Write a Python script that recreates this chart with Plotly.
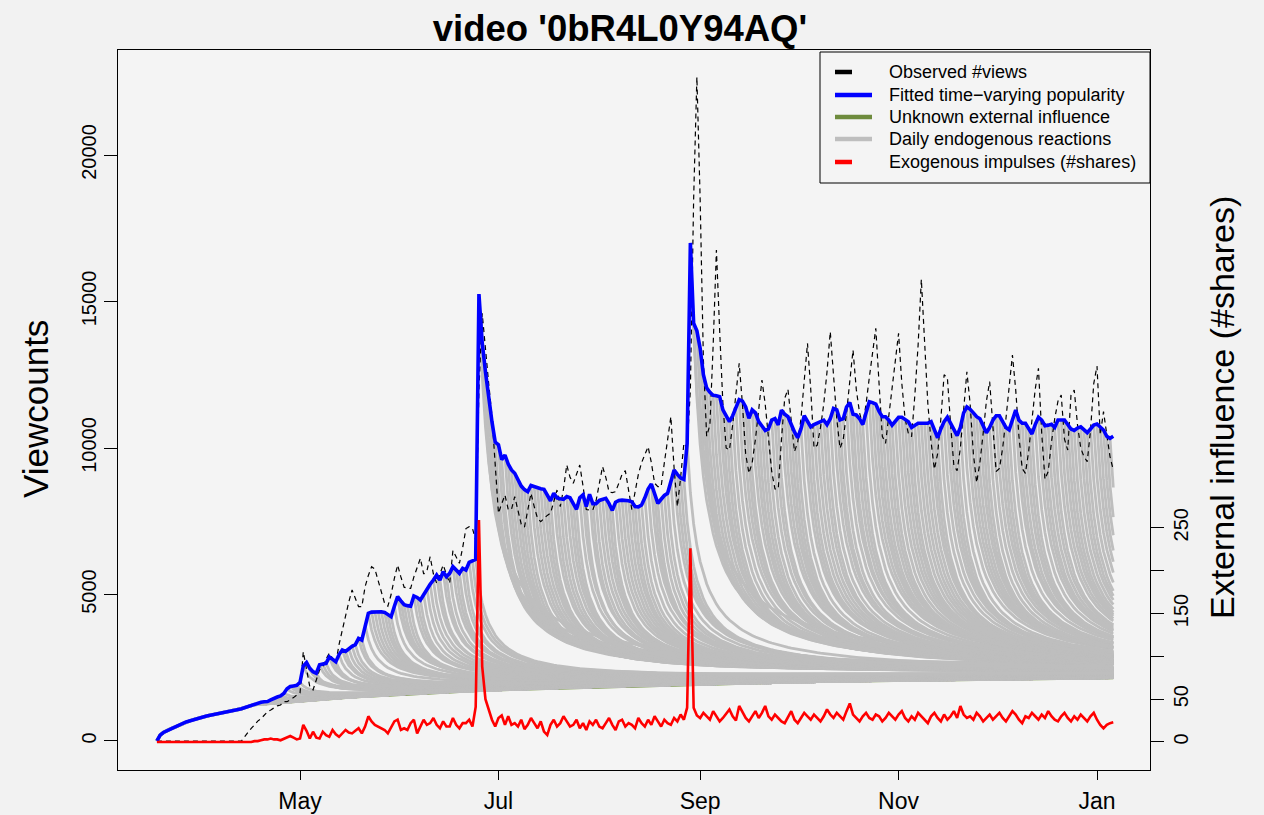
import numpy as np
import pandas as pd
import plotly.graph_objects as go

FIRST_DAY = "2013-03-18"

# Fitted time-varying popularity (views per day)
fitted = [
    0, 200, 290, 355, 405, 450, 500, 560, 610, 650,
    683, 720, 755, 790, 820, 845, 870, 890, 910, 930,
    950, 975, 1000, 1025, 1050, 1075, 1100, 1140, 1180, 1215,
    1260, 1290, 1320, 1340, 1345, 1400, 1460, 1500, 1536, 1620,
    1780, 1860, 1880, 1900, 2000, 2560, 2680, 2480, 2365, 2310,
    2600, 2620, 2650, 2870, 2780, 2706, 2950, 3106, 3060, 3150,
    3230, 3290, 3504, 3447, 3950, 4358, 4400, 4413, 4413, 4413,
    4390, 4300, 4242, 4600, 4925, 4780, 4650, 4620, 4600, 4950,
    4900, 4812, 5000, 5211, 5350, 5495, 5666, 5495, 5779, 5608,
    5722, 5950, 5850, 5722, 5894, 5836, 6100, 6150, 6200, 15256,
    13600, 12600, 11700, 10900, 10200, 10110, 9600, 9761, 9450, 9250,
    9140, 8900, 8700, 8580, 8509, 8720, 8680, 8630, 8610, 8589,
    8400, 8200, 8453, 8300, 8270, 8248, 8340, 8300, 8100, 7907,
    8300, 8400, 8000, 8420, 8100, 8100, 8210, 8240, 8280, 8100,
    7870, 8150, 8210, 8220, 8225, 8200, 8168, 8000, 7990, 8054,
    8300, 8600, 8771, 8450, 8111, 8250, 8380, 8453, 8850, 9250,
    9100, 8980, 8932, 10160, 17000, 14256, 14000, 13400, 12500, 12050,
    11900, 11800, 11780, 11752, 11300, 11100, 10900, 11100, 11350, 11650,
    11600, 11400, 11013, 11300, 11200, 10900, 10750, 10600, 10650, 10950,
    11000, 10790, 11290, 11150, 11069, 10800, 10550, 10350, 10650, 11100,
    10900, 10720, 10800, 10850, 10900, 10950, 10800, 11000, 11350, 11300,
    10956, 11000, 11400, 11550, 11150, 11126, 11000, 10800, 11200, 11580,
    11550, 11500, 11250, 11069, 11069, 10950, 10780, 10900, 11050, 11050,
    10990, 10900, 10700, 10780, 10843, 10843, 10843, 10850, 10899, 10600,
    10350, 10650, 10900, 11050, 10850, 10600, 10420, 10700, 11200, 11400,
    11320, 11200, 11069, 11000, 10728, 10520, 10700, 10950, 11100, 11100,
    10900, 10700, 10620, 11000, 11297, 10950, 10843, 10843, 10650, 10480,
    10800, 11050, 10950, 10762, 10780, 10808, 10700, 10956, 10956, 10956,
    10800, 10650, 10600, 10680, 10720, 10600, 10523, 10650, 10780, 10819,
    10700, 10614, 10400, 10330, 10400,
]

# Observed #views per day
observed = [0] * 26 + [
    0, 150, 300, 433,
    550, 680, 760, 900, 1000, 1060, 1120, 1200, 1229, 1341,
    1341, 1399, 1480, 1570, 1640, 3048, 2423, 1853, 1741, 2100,
    2423, 2536, 2800, 2993, 2800, 2652, 3300, 3800, 4300, 4750,
    5154, 4850, 4584, 4584, 5266, 5650, 5949, 5870, 5500, 5100,
    4700, 4600, 5000, 5550, 6007, 5600, 5250, 5211, 5211, 5600,
    5950, 6234, 5700, 5800, 6290, 5700, 5382, 5700, 6007, 5700,
    5382, 6500, 6300, 6063, 6600, 7250, 7315, 7258, 6860, 12000,
    14596, 13300, 12200, 11100, 9500, 7771, 8100, 8396, 7900, 7900,
    8339, 7900, 7400, 7300, 7900, 8453, 8000, 7600, 7486, 7600,
    7700, 7771, 8200, 8566, 8000, 8600, 9420, 9000, 8794, 9100,
    9420, 8700, 7900, 7884, 7884, 8200, 8800, 9363, 9000, 8500,
    8480, 8509, 8800, 9100, 9226, 8600, 7900, 8500, 9100, 9500,
    9800, 10045, 9500, 8800, 8680, 8680, 9500, 10300, 11069, 9300,
    8000, 9000, 10160, 10000, 12000, 18500, 22662, 18500, 13000, 10400,
    10785, 13500, 16758, 14000, 11500, 10000, 9932, 10800, 11900, 12890,
    11500, 9800, 9135, 9500, 10300, 11300, 12321, 11500, 10200, 9200,
    8600, 8600, 10300, 11700, 12000, 10900, 9875, 10200, 11000, 12300,
    13572, 12000, 10000, 10100, 10700, 11500, 12600, 13970, 12500, 11000,
    9989, 10300, 11200, 12400, 13345, 12000, 11200, 10785, 11500, 12400,
    13300, 14084, 12200, 10400, 10160, 11100, 12000, 13000, 13913, 12200,
    11000, 10500, 10387, 11800, 13500, 15758, 13500, 11500, 10200, 9273,
    9800, 11000, 12500, 12400, 10800, 9400, 9226, 10000, 11300, 12604,
    11500, 9800, 8816, 9500, 10500, 11600, 12263, 10800, 9200, 9300,
    10000, 11000, 12000, 13174, 12000, 10400, 9300, 9135, 9900, 11000,
    12000, 12720, 10500, 8932, 9200, 10200, 11000, 11600, 11809, 10300,
    9932, 11800, 11980, 10800, 10000, 9700, 9533, 10600, 12200, 12799,
    10450, 11240, 10500, 9700, 9250,
]

# Exogenous impulses: #shares per day (right axis)
shares = [0] * 30 + [
    1, 1, 2, 3, 3, 4, 3, 3, 2, 4,
    5, 7, 5, 3, 4, 20, 13, 4, 12, 5,
    4, 12, 8, 6, 14, 9, 6, 10, 14, 11,
    10, 13, 16, 10, 18, 30, 24, 20, 18, 16,
    14, 10, 18, 24, 26, 14, 16, 14, 22, 26,
    10, 18, 26, 20, 22, 28, 20, 16, 24, 18,
    18, 28, 20, 16, 22, 22, 26, 18, 41, 259,
    88, 50, 38, 26, 18, 28, 31, 20, 30, 20,
    22, 18, 26, 15, 20, 28, 22, 16, 24, 12,
    8, 20, 26, 18, 22, 30, 24, 18, 20, 26,
    16, 22, 14, 24, 20, 26, 18, 16, 22, 28,
    20, 14, 24, 26, 18, 22, 20, 16, 28, 22,
    18, 26, 20, 30, 24, 18, 26, 22, 20, 28,
    24, 32, 26, 40, 226, 40, 31, 28, 34, 30,
    26, 36, 30, 24, 28, 33, 38, 30, 25, 42,
    35, 28, 24, 30, 36, 28, 34, 42, 30, 26,
    32, 28, 24, 22, 30, 36, 26, 22, 28, 34,
    30, 26, 32, 28, 24, 30, 38, 32, 28, 34,
    30, 26, 36, 45, 32, 28, 24, 30, 34, 28,
    26, 32, 30, 24, 28, 34, 30, 26, 32, 36,
    28, 24, 30, 26, 34, 30, 26, 22, 30, 34,
    28, 24, 32, 26, 30, 36, 28, 42, 32, 28,
    30, 26, 34, 30, 24, 28, 32, 26, 30, 34,
    28, 24, 30, 36, 32, 26, 22, 30, 28, 34,
    30, 26, 32, 28, 36, 30, 26, 24, 30, 34,
    28, 24, 30, 26, 32, 28, 24, 30, 34, 26,
    20, 16, 20, 22, 23,
]

# Unknown external influence (views per day)
external = [
    0, 200, 290, 355, 405, 450, 500, 560, 610, 650,
    683, 720, 755, 790, 820, 845, 870, 890, 910, 930,
    950, 975, 1000, 1025, 1050, 1075, 1100, 1140, 1180, 1215,
    1240, 1250, 1260, 1270, 1280, 1290, 1300, 1310, 1320, 1330,
    1340, 1350, 1360, 1370, 1380, 1388, 1396, 1404, 1412, 1420,
    1428, 1436, 1444, 1452, 1460, 1468, 1476, 1484, 1492, 1500,
    1508, 1514, 1521, 1527, 1534, 1540, 1547, 1553, 1560, 1566,
    1573, 1579, 1586, 1592, 1599, 1605, 1612, 1618, 1625, 1631,
    1638, 1643, 1648, 1653, 1658, 1663, 1668, 1673, 1678, 1683,
    1688, 1693, 1698, 1703, 1708, 1713, 1718, 1723, 1728, 1733,
    1738, 1742, 1745, 1749, 1752, 1756, 1759, 1763, 1766, 1770,
    1773, 1777, 1780, 1784, 1787, 1791, 1794, 1798, 1801, 1805,
    1808, 1812, 1815, 1819, 1822, 1826, 1829, 1833, 1836, 1840,
    1843, 1847, 1850, 1854, 1857, 1861, 1864, 1868, 1871, 1875,
    1878, 1881, 1883, 1886, 1889, 1891, 1894, 1896, 1899, 1902,
    1904, 1907, 1909, 1912, 1915, 1917, 1920, 1922, 1925, 1928,
    1930, 1933, 1935, 1938, 1941, 1943, 1946, 1948, 1951, 1954,
    1956, 1959, 1961, 1964, 1967, 1969, 1972, 1974, 1977, 1980,
    1982, 1985, 1987, 1990, 1993, 1995, 1998, 2000, 2003, 2006,
    2008, 2011, 2013, 2016, 2019, 2021, 2024, 2026, 2029, 2032,
    2034, 2035, 2036, 2038, 2039, 2041, 2042, 2043, 2045, 2046,
    2048, 2049, 2050, 2052, 2053, 2055, 2056, 2057, 2059, 2060,
    2062, 2063, 2064, 2066, 2067, 2069, 2070, 2071, 2073, 2074,
    2076, 2077, 2078, 2080, 2081, 2083, 2084, 2085, 2087, 2088,
    2090, 2091, 2092, 2094, 2095, 2097, 2098, 2099, 2101, 2102,
    2104, 2105, 2106, 2108, 2109, 2111, 2112, 2113, 2115, 2116,
    2118, 2119, 2120, 2122, 2123, 2125, 2126, 2127, 2129, 2130,
    2132, 2133, 2134, 2136, 2137, 2139, 2140, 2141, 2143, 2144,
    2146, 2147, 2148, 2150, 2151, 2153, 2154, 2155, 2157, 2158,
    2160, 2161, 2162, 2164, 2165,
]

month_ticks = ["2013-05-01", "2013-07-01", "2013-09-01", "2013-11-01", "2014-01-01"]
month_labels = ["May", "Jul", "Sep", "Nov", "Jan"]
view_ticks = [0, 5000, 10000, 15000, 20000]
share_ticks = [0, 50, 100, 150, 200, 250]
share_labels = ["0", "50", "", "150", "", "250"]

# power-law memory of each day's endogenous reaction
MEMORY_C = 3.0
MEMORY_P = 0.8

n = len(fitted)
assert all(len(s) == n for s in (observed, shares, external)), \
    [len(s) for s in (fitted, observed, shares, external)]

days = pd.date_range(FIRST_DAY, periods=n, freq="D")
day_str = days.strftime("%Y-%m-%d").tolist()

fit = np.asarray(fitted, float)
ext = np.asarray(external, float)
lag = np.arange(n)
memory = (1.0 + lag / MEMORY_C) ** (-MEMORY_P)

# each day's reaction: starts at that day's fitted level and relaxes onto the external influence
gx, gy = [], []
for k in range(n):
    react = ext[k:] + (fit[k] - ext[k]) * memory[: n - k]
    gx.extend(day_str[k:])
    gx.append(None)
    gy.extend(np.round(react, 1).tolist())
    gy.append(None)

FONT = "Liberation Sans, Arial, Helvetica, sans-serif"
GREY = "#bebebe"
GREEN = "#6e8b3d"
BLUE = "#0000ff"
RED = "#ff0000"

fig = go.Figure()
fig.add_trace(go.Scatter(x=day_str, y=external, mode="lines",
                         line=dict(color=GREEN, width=3.4), showlegend=False, hoverinfo="skip"))
fig.add_trace(go.Scatter(x=gx, y=gy, mode="lines", connectgaps=False,
                         line=dict(color=GREY, width=2.8), showlegend=False, hoverinfo="skip"))
fig.add_trace(go.Scatter(x=day_str, y=observed, mode="lines",
                         line=dict(color="black", width=1.2, dash="5px,4px"), showlegend=False))
fig.add_trace(go.Scatter(x=day_str, y=fitted, mode="lines",
                         line=dict(color=BLUE, width=3.6), showlegend=False))
fig.add_trace(go.Scatter(x=day_str, y=shares, mode="lines", yaxis="y2",
                         line=dict(color=RED, width=2.6), showlegend=False))

# legend box drawn in paper coordinates of the plot area (1032 x 720 px)
PW, PH = 1032.0, 720.0
def px(xp):
    return (xp - 118) / PW
def py(yp):
    return (770 - yp) / PH

legend_rows = [
    ("Observed #views", "black", 17),
    ("Fitted time\u2212varying popularity", BLUE, 37),
    ("Unknown external influence", GREEN, 37),
    ("Daily endogenous reactions", GREY, 37),
    ("Exogenous impulses (#shares)", RED, 17),
]
row_y = [72, 95, 117, 139, 162]

shapes = [dict(type="rect", xref="paper", yref="paper",
               x0=px(820), x1=px(1150), y0=py(183), y1=py(52),
               line=dict(color="black", width=1), fillcolor="rgba(0,0,0,0)")]
annotations = []
for (label, col, seg), yy in zip(legend_rows, row_y):
    shapes.append(dict(type="line", xref="paper", yref="paper",
                       x0=px(835), x1=px(835 + seg), y0=py(yy), y1=py(yy),
                       line=dict(color=col, width=4.5)))
    annotations.append(dict(text=label, xref="paper", yref="paper", x=px(887), y=py(yy),
                            xanchor="left", yanchor="middle", showarrow=False,
                            font=dict(size=18, family=FONT, color="black")))

annotations += [
    dict(text="Viewcounts", xref="paper", yref="paper", x=px(35), y=py(409),
         textangle=-90, showarrow=False, xanchor="center", yanchor="middle",
         font=dict(size=35, family=FONT, color="black")),
    dict(text="External influence (#shares)", xref="paper", yref="paper",
         x=px(1222), y=py(408),
         textangle=-90, showarrow=False, xanchor="center", yanchor="middle",
         font=dict(size=34, family=FONT, color="black")),
]

fig.update_layout(
    width=1264, height=815,
    margin=dict(l=118, r=114, t=50, b=45, autoexpand=False),
    paper_bgcolor="#f2f2f2", plot_bgcolor="#f4f4f4",
    font=dict(family=FONT, color="black"),
    showlegend=False,
    title=dict(text="<b>video '0bR4L0Y94AQ'</b>", xref="container", x=620 / 1264,
               xanchor="center", yref="container", y=1 - 28 / 815, yanchor="middle",
               font=dict(size=36.5, family=FONT, color="black")),
    xaxis=dict(type="date", range=["2013-03-06 01:00", "2014-01-17 07:00"],
               tickvals=month_ticks, ticktext=month_labels,
               ticks="outside", ticklen=9, tickcolor="black",
               showgrid=False, zeroline=False, showline=True, linecolor="black",
               mirror=True, automargin=False,
               tickfont=dict(size=23, family=FONT, color="black"),
               ticklabelstandoff=1),
    yaxis=dict(range=[-990, 23584], tickvals=view_ticks,
               ticktext=[str(v) for v in view_ticks], tickangle=-90,
               ticks="outside", ticklen=13, tickcolor="black",
               showgrid=False, zeroline=False, showline=True, linecolor="black",
               mirror=True, automargin=False,
               tickfont=dict(size=20, family=FONT, color="black")),
    yaxis2=dict(overlaying="y", side="right", range=[-32.7, 807.5],
                tickvals=share_ticks, ticktext=share_labels, tickangle=-90,
                ticks="outside", ticklen=13, tickcolor="black",
                showgrid=False, zeroline=False, showline=False, automargin=False,
                tickfont=dict(size=20, family=FONT, color="black")),
    shapes=shapes,
    annotations=annotations,
)

fig.write_html("out.html")
